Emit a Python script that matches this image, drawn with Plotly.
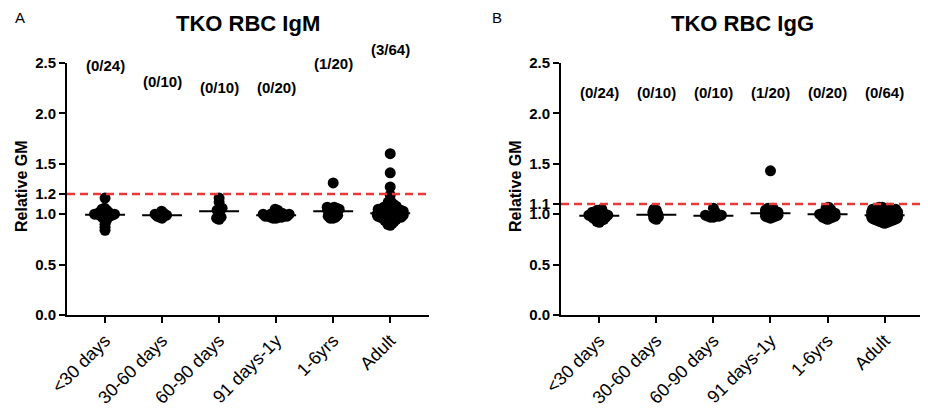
import numpy as np
import plotly.graph_objects as go

categories = ["<30 days", "30-60 days", "60-90 days", "91 days-1y", "1-6yrs", "Adult"]

igm_lt30 = [1.16, 1.06, 1.05, 1.04, 1.03, 1.02, 1.02, 1.01, 1.01, 1.00, 1.00, 1.00,
            0.99, 0.99, 0.99, 0.98, 0.98, 0.97, 0.96, 0.95, 0.93, 0.90, 0.87, 0.84]
igm_30_60 = [0.96, 0.97, 0.98, 0.98, 0.99, 0.99, 1.00, 1.00, 1.01, 1.03]
igm_60_90 = [0.95, 0.96, 0.97, 0.99, 1.02, 1.04, 1.05, 1.06, 1.12, 1.16]
igm_91_1y = [0.96, 0.96, 0.97, 0.97, 0.97, 0.98, 0.98, 0.98, 0.98, 0.99,
             0.99, 0.99, 1.00, 1.00, 1.00, 1.01, 1.01, 1.02, 1.04, 1.05]
igm_1_6y = [0.96, 0.96, 0.97, 0.98, 0.99, 0.99, 1.00, 1.01, 1.02, 1.03,
            1.03, 1.04, 1.04, 1.05, 1.05, 1.06, 1.06, 1.07, 1.07, 1.31]
igm_adult = [1.60, 1.41, 1.27, 1.19, 1.14, 1.12, 1.11, 1.10, 1.09, 1.08,
             1.08, 1.07, 1.07, 1.06, 1.06, 1.05, 1.05, 1.05, 1.04, 1.04,
             1.04, 1.03, 1.03, 1.03, 1.03, 1.02, 1.02, 1.02, 1.02, 1.01,
             1.01, 1.01, 1.01, 1.00, 1.00, 1.00, 1.00, 1.00, 0.99, 0.99,
             0.99, 0.99, 0.98, 0.98, 0.98, 0.98, 0.97, 0.97, 0.97, 0.96,
             0.96, 0.96, 0.95, 0.95, 0.94, 0.94, 0.93, 0.93, 0.92, 0.91,
             0.90, 0.89, 0.97, 1.00]

igg_lt30 = [0.92, 0.93, 0.94, 0.95, 0.95, 0.96, 0.96, 0.97, 0.97, 0.98, 0.98, 0.98,
            0.99, 0.99, 0.99, 1.00, 1.00, 1.01, 1.01, 1.02, 1.02, 1.03, 1.04, 1.05]
igg_30_60 = [0.95, 0.96, 0.97, 0.98, 0.99, 1.00, 1.01, 1.02, 1.04, 1.05]
igg_60_90 = [0.97, 0.97, 0.98, 0.98, 0.98, 0.99, 0.99, 1.00, 1.02, 1.06]
igg_91_1y = [0.96, 0.97, 0.97, 0.98, 0.98, 0.99, 0.99, 1.00, 1.00, 1.01,
             1.01, 1.02, 1.02, 1.03, 1.03, 1.04, 1.05, 1.06, 1.06, 1.43]
igg_1_6y = [0.95, 0.96, 0.96, 0.97, 0.97, 0.98, 0.98, 0.99, 0.99, 1.00,
            1.00, 1.00, 1.01, 1.01, 1.02, 1.03, 1.04, 1.05, 1.06, 1.07]
igg_adult = [0.91, 0.92, 0.92, 0.93, 0.93, 0.94, 0.94, 0.94, 0.95, 0.95,
             0.95, 0.95, 0.96, 0.96, 0.96, 0.96, 0.97, 0.97, 0.97, 0.97,
             0.97, 0.98, 0.98, 0.98, 0.98, 0.98, 0.99, 0.99, 0.99, 0.99,
             0.99, 0.99, 1.00, 1.00, 1.00, 1.00, 1.00, 1.00, 1.01, 1.01,
             1.01, 1.01, 1.01, 1.02, 1.02, 1.02, 1.02, 1.03, 1.03, 1.03,
             1.03, 1.04, 1.04, 1.04, 1.05, 1.05, 1.05, 1.06, 1.06, 1.06,
             1.07, 1.07, 1.00, 0.98]

igm_groups = [igm_lt30, igm_30_60, igm_60_90, igm_91_1y, igm_1_6y, igm_adult]
igg_groups = [igg_lt30, igg_30_60, igg_60_90, igg_91_1y, igg_1_6y, igg_adult]

igm_counts = ["(0/24)", "(0/10)", "(0/10)", "(0/20)", "(1/20)", "(3/64)"]
igg_counts = ["(0/24)", "(0/10)", "(0/10)", "(1/20)", "(0/20)", "(0/64)"]
igm_count_y = [2.58, 2.42, 2.36, 2.36, 2.60, 2.74]
igg_count_y = [2.31, 2.31, 2.31, 2.31, 2.31, 2.31]

igm_cutoff = 1.2
igg_cutoff = 1.1

igm_yticks = [0.0, 0.5, 1.0, 1.2, 1.5, 2.0, 2.5]
igg_yticks = [0.0, 0.5, 1.0, 1.1, 1.5, 2.0, 2.5]

FONT = "Liberation Sans, Arial, sans-serif"
OFF = 8                          # browser body margin
W, H = 928 - OFF, 409 - OFF      # figure size
Y_TOP, Y_BOT = 63, 315           # screen rows of y=2.5 and y=0
PX_Y = (Y_BOT - Y_TOP) / 2.5     # pixels per y unit
PX_X = 57.0                      # pixels per category
YMAX = 2.5


def px_x(xs):
    return (xs - OFF) / W


def px_y(ys):
    return 1 - (ys - OFF) / H


def swarm(vals, dmin=2.6, step=0.5, maxw=13.0):
    vals = np.asarray(vals, dtype=float)
    order = np.argsort(vals, kind="stable")
    placed = []
    offs = np.zeros(len(vals))
    flip = 1
    cand_all = [0.0]
    k = 1
    while k * step <= maxw:
        cand_all += [k * step, -k * step]
        k += 1
    for i in order:
        yp = vals[i] * PX_Y
        found = None
        best, bestd = 0.0, -1
        for c in cand_all:
            dx = c * flip
            if placed:
                d = min((dx - px) ** 2 + (yp - py) ** 2 for px, py in placed)
            else:
                d = 1e9
            if d >= dmin ** 2:
                found = dx
                break
            if d > bestd:
                bestd, best = d, dx
        if found is None:
            found = best
        flip = -flip
        placed.append((found, yp))
        offs[i] = found / PX_X
    return offs


fig = go.Figure()

panels = [
    dict(groups=igm_groups, xa="x", ya="y"),
    dict(groups=igg_groups, xa="x2", ya="y2"),
]

for p in panels:
    for ci, vals in enumerate(p["groups"]):
        offs = swarm(vals)
        fig.add_trace(go.Scatter(
            x=ci + offs, y=vals, mode="markers", xaxis=p["xa"], yaxis=p["ya"],
            marker=dict(size=11, color="black", line=dict(width=0)),
            showlegend=False, hoverinfo="skip", cliponaxis=False))
        med = float(np.median(vals))
        fig.add_trace(go.Scatter(
            x=[ci - 0.35, ci + 0.35], y=[med, med], mode="lines",
            xaxis=p["xa"], yaxis=p["ya"],
            line=dict(color="black", width=2), showlegend=False, hoverinfo="skip"))

# cutoff lines
fig.add_shape(type="line", xref="x domain", yref="y", x0=0, x1=1,
              y0=igm_cutoff, y1=igm_cutoff,
              line=dict(color="#e8393a", width=2.5, dash="8px,5px"))
fig.add_shape(type="line", xref="x2 domain", yref="y2", x0=0, x1=1.01,
              y0=igg_cutoff, y1=igg_cutoff,
              line=dict(color="#e8393a", width=2.5, dash="8px,5px"))

axis_common = dict(showline=True, linecolor="black", linewidth=2,
                   ticks="outside", ticklen=6, tickwidth=2, tickcolor="black",
                   showgrid=False, zeroline=False, fixedrange=True,
                   automargin=False)

ydom = [px_y(Y_BOT), px_y(Y_TOP)]
xfont = dict(family=FONT, size=18, color="black")
yfont = dict(family=FONT, size=15, color="black", weight="bold")

xa1 = dict(domain=[px_x(67), px_x(429)], range=[-0.667, 5.68], anchor="y",
           tickmode="array", tickvals=list(range(6)), ticktext=categories,
           tickangle=-45, tickfont=xfont, **axis_common)
xa2 = dict(domain=[px_x(561), 1.0], range=[-0.671, 5.76], anchor="y2",
           tickmode="array", tickvals=list(range(6)), ticktext=categories,
           tickangle=-45, tickfont=xfont, **axis_common)
ya1 = dict(domain=ydom, range=[0, YMAX], anchor="x", tickmode="array",
           tickvals=igm_yticks, ticktext=[f"{v:.1f}" for v in igm_yticks],
           tickfont=yfont, **axis_common)
ya2 = dict(domain=ydom, range=[0, YMAX], anchor="x2", tickmode="array",
           tickvals=igg_yticks, ticktext=[f"{v:.1f}" for v in igg_yticks],
           tickfont=yfont, **axis_common)


def y_to_paper(v):
    return ydom[0] + (v / YMAX) * (ydom[1] - ydom[0])


annotations = []
for ci, (t, yv) in enumerate(zip(igm_counts, igm_count_y)):
    annotations.append(dict(x=ci, y=y_to_paper(yv), xref="x", yref="paper",
                            text=f"<b>{t}</b>", showarrow=False,
                            font=dict(family=FONT, size=15, color="black")))
for ci, (t, yv) in enumerate(zip(igg_counts, igg_count_y)):
    annotations.append(dict(x=ci, y=y_to_paper(yv), xref="x2", yref="paper",
                            text=f"<b>{t}</b>", showarrow=False,
                            font=dict(family=FONT, size=15, color="black")))

for text, xs, ys, size in [("TKO RBC IgM", 248, 23, 22),
                           ("TKO RBC IgG", 742, 23, 22)]:
    annotations.append(dict(x=px_x(xs), y=px_y(ys), xref="paper", yref="paper",
                            text=f"<b>{text}</b>", showarrow=False,
                            xanchor="center", yanchor="middle",
                            font=dict(family=FONT, size=size, color="black")))

for text, xs in [("A", 20), ("B", 497)]:
    annotations.append(dict(x=px_x(xs), y=1.0, xref="paper", yref="paper",
                            text=text, showarrow=False, borderpad=0,
                            xanchor="center", yanchor="top",
                            font=dict(family=FONT, size=15, color="black")))

for xs in (21, 515):
    annotations.append(dict(x=px_x(xs), y=px_y(186), xref="paper", yref="paper",
                            text="<b>Relative GM</b>", textangle=-90, showarrow=False,
                            xanchor="center", yanchor="middle",
                            font=dict(family=FONT, size=16, color="black")))

fig.update_layout(width=W, height=H, margin=dict(l=0, r=0, t=0, b=0),
                  paper_bgcolor="white", plot_bgcolor="white",
                  xaxis=xa1, yaxis=ya1, xaxis2=xa2, yaxis2=ya2,
                  annotations=annotations, showlegend=False)

fig.write_html("out.html")
